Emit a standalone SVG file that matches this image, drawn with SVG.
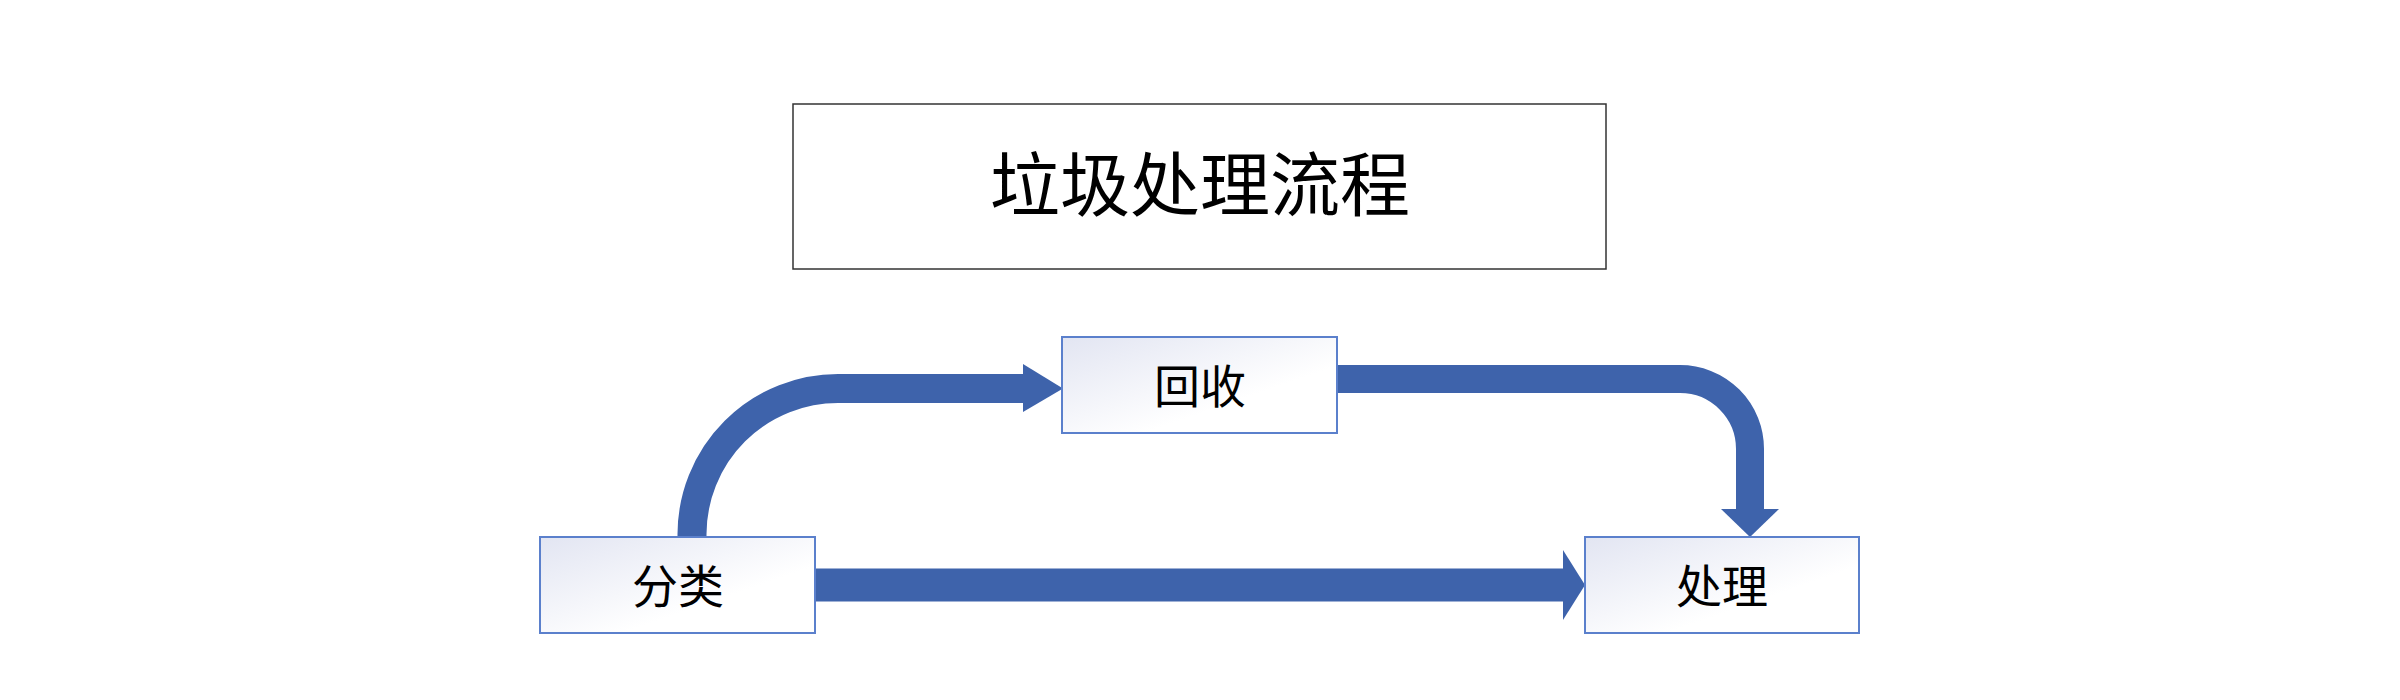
<svg xmlns="http://www.w3.org/2000/svg" width="2400" height="700" viewBox="0 0 2400 700">
<style>
.box{stroke:#5B80CC;stroke-width:2;fill:url(#g)}
.lbl{font-family:"Noto Sans CJK SC","Noto Sans",sans-serif;font-size:46px;fill:#000;text-anchor:middle}
.title{font-family:"Noto Sans CJK SC","Noto Sans",sans-serif;font-size:70px;fill:#000;text-anchor:middle}
.shaft{fill:none;stroke:#3E63AB}
.head{fill:#3E63AB}
</style>
<defs>
<linearGradient id="g" x1="0" y1="0" x2="1" y2="1">
<stop offset="0" stop-color="#E2E5F2"/>
<stop offset="0.65" stop-color="#FFFFFF"/>
<stop offset="1" stop-color="#FFFFFF"/>
</linearGradient>
</defs>
<rect width="2400" height="700" fill="#FFFFFF"/>
<g id="title">
<rect x="793" y="104" width="813" height="165" fill="#FFFFFF" stroke="#333333" stroke-width="1.5"/>
<text class="title" x="1200" y="211">垃圾处理流程</text>
</g>
<g id="connectors">
<path class="shaft" stroke-width="29" d="M692 537 L692 534 A146 146 0 0 1 838 388.5 L1024 388.5"/>
<polygon class="head" points="1023,364 1063,388.5 1023,412"/>
<path class="shaft" stroke-width="28" d="M1337 379 L1680 379 A70 70 0 0 1 1750 449 L1750 510"/>
<polygon class="head" points="1721,509 1779,509 1750,537"/>
<path class="shaft" stroke-width="33" d="M815 585 L1564 585"/>
<polygon class="head" points="1563,550 1585,585 1563,620"/>
</g>
<g id="node-huishou">
<rect class="box" x="1062" y="337" width="275" height="96"/>
<text class="lbl" x="1200" y="403">回收</text>
</g>
<g id="node-fenlei">
<rect class="box" x="540" y="537" width="275" height="96"/>
<text class="lbl" x="678" y="603">分类</text>
</g>
<g id="node-chuli">
<rect class="box" x="1585" y="537" width="274" height="96"/>
<text class="lbl" x="1722" y="603">处理</text>
</g>
</svg>
